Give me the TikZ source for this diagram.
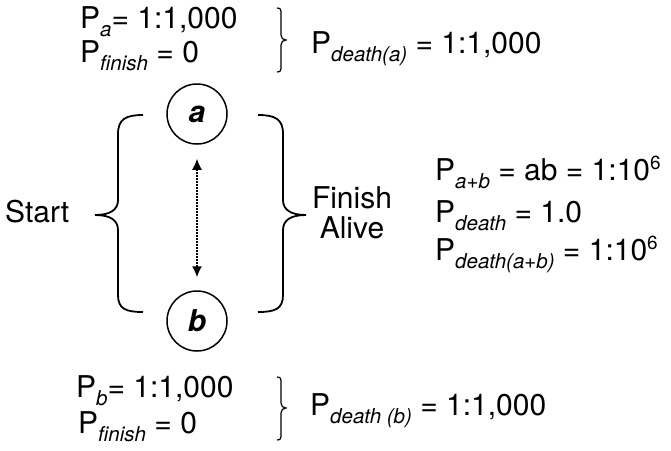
\documentclass[tikz,border=0pt]{standalone}
\usepackage{fontspec}
\setmainfont{TeX Gyre Heros}
\usetikzlibrary{arrows.meta}
\newcommand\sbs[1]{\raisebox{-8pt}{\fontsize{20.5}{21}\selectfont\itshape #1}}
\newcommand\sps[1]{\raisebox{10.5pt}{\fontsize{19}{19}\selectfont #1}}
\begin{document}
\begin{tikzpicture}[x=1pt,y=-1pt,
  lbl/.style={inner sep=0pt, anchor=base west, font=\fontsize{30}{30}\selectfont},
  circ/.style={circle, draw, line width=1.5pt, minimum size=60pt, inner sep=0pt, font=\fontsize{30}{30}\selectfont\bfseries\itshape},
  bigbrace/.style={line width=1.8pt},
  smallbrace/.style={line width=1.2pt},
  dotarrow/.style={line width=1.6pt, dash pattern=on 1.6pt off 1.4pt, {Latex[length=11pt,width=10pt]}-{Latex[length=11pt,width=10pt]}}]
\useasboundingbox (0,0) rectangle (671,450);
\node[lbl] (pa) at (80,28) {P\sbs{a}= 1:1,000};
\node[lbl] (pfa) at (80,62) {P\sbs{finish} = 0};
\node[lbl] (pda) at (311,53) {P\sbs{death(a)} = 1:1,000};
\node[circ] (a) at (197,114) {a};
\node[circ] (b) at (197,321) {b};
\node[lbl] (start) at (5,222) {Start};
\node[lbl, anchor=base, align=center] (fin) at (352,238) {Finish\\Alive};
\node[lbl] (pab) at (435,180) {P\sbs{a+b} = ab = 1:10\sps{6}};
\node[lbl] (pd) at (435,222) {P\sbs{death} = 1.0};
\node[lbl] (pdab) at (435,260) {P\sbs{death(a+b)} = 1:10\sps{6}};
\node[lbl] (pb) at (76,397) {P\sbs{b}= 1:1,000};
\node[lbl] (pfb) at (78,433) {P\sbs{finish} = 0};
\node[lbl] (pdb) at (310,415) {P\sbs{death (b)} = 1:1,000};
\draw[dotarrow, shorten <=14pt, shorten >=13pt] (a) -- (b);
% large braces
\draw[bigbrace] (143,115) .. controls (126,115) and (118,119) .. (118,134) -- (118,200) .. controls (118,210) and (110,215) .. (95,215) .. controls (110,215) and (118,220) .. (118,230) -- (118,295) .. controls (118,309) and (126,312) .. (143,312);
\draw[bigbrace] (258,115) .. controls (275,115) and (283,119) .. (283,134) -- (283,200) .. controls (283,210) and (291,215) .. (306,215) .. controls (291,215) and (283,220) .. (283,230) -- (283,295) .. controls (283,309) and (275,312) .. (258,312);
% small braces
\draw[smallbrace] (277,8) .. controls (281,8) and (281,10) .. (281,14) -- (281,35) .. controls (281,38) and (283,40) .. (286,40) .. controls (283,40) and (281,42) .. (281,45) -- (281,66) .. controls (281,70) and (281,72) .. (277,72);
\draw[smallbrace] (277,377) .. controls (281,377) and (281,379) .. (281,383) -- (281,403) .. controls (281,406) and (283,408) .. (286,408) .. controls (283,408) and (281,410) .. (281,413) -- (281,434) .. controls (281,438) and (281,440) .. (277,440);
\end{tikzpicture}
\end{document}
